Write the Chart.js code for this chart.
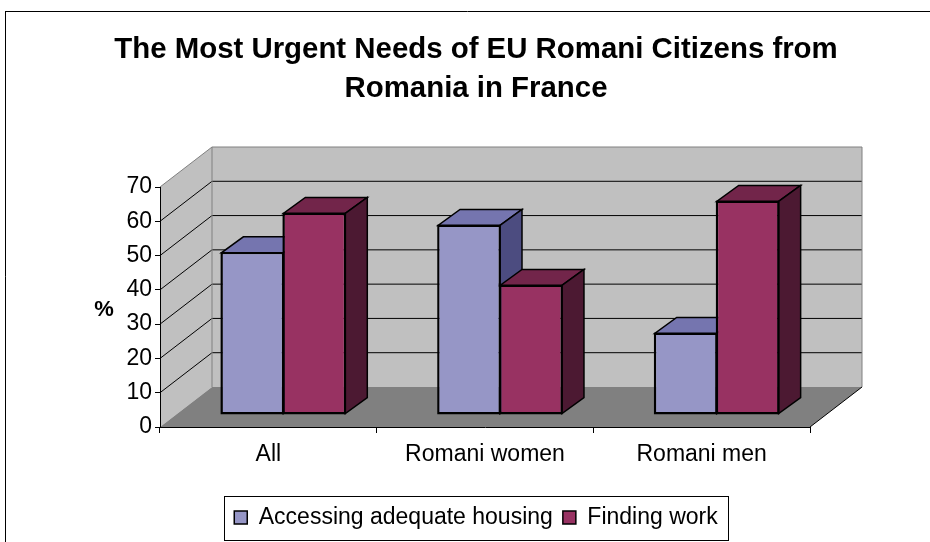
<!DOCTYPE html>
<html><head><meta charset="utf-8">
<script src="https://cdn.jsdelivr.net/npm/chart.js@4/dist/chart.umd.min.js"></script>
<style>html,body{margin:0;padding:0;background:#fff;}canvas{display:block;}</style>
</head><body>
<canvas id="c" width="930" height="542"></canvas>
<script>
const categories = ['All', 'Romani women', 'Romani men'];
const housing = [47, 55, 23.5];
const work = [58.5, 37.5, 62];
const seriesNames = ['Accessing adequate housing', 'Finding work'];
const titleLines = ['The Most Urgent Needs of EU Romani Citizens from', 'Romania in France'];
const yMin = 0, yMax = 70, yStep = 10;
const yLabel = '%';

const FONT = '"Liberation Sans", Arial, Helvetica, sans-serif';
const WALL_DX = 52, WALL_DY = -40;
const BAR_DX = 15, BAR_DY = -13;
const DEPTH_DX = 22, DEPTH_DY = -16;
const faces = [
  {front: '#9696C6', top: '#7575AF', side: '#4C4C80'},
  {front: '#983262', top: '#72254A', side: '#4C1932'}
];

function poly(ctx, pts, fill, stroke, lw) {
  ctx.beginPath();
  ctx.moveTo(pts[0][0], pts[0][1]);
  for (let i = 1; i < pts.length; i++) ctx.lineTo(pts[i][0], pts[i][1]);
  ctx.closePath();
  if (fill) { ctx.fillStyle = fill; ctx.fill(); }
  if (stroke) { ctx.strokeStyle = stroke; ctx.lineWidth = lw || 1; ctx.lineJoin = 'miter'; ctx.stroke(); }
}
function line(ctx, x1, y1, x2, y2, color, lw) {
  ctx.beginPath(); ctx.moveTo(x1, y1); ctx.lineTo(x2, y2);
  ctx.strokeStyle = color; ctx.lineWidth = lw || 1; ctx.stroke();
}

const excel3d = {
  id: 'excel3d',
  beforeDraw(chart) {
    const ctx = chart.ctx;
    const {left, right} = chart.chartArea;
    const ys = chart.scales.y;
    const yTop = ys.getPixelForValue(yMax), yBot = ys.getPixelForValue(yMin);
    ctx.save();
    line(ctx, 5.5, 542, 5.5, 11.5, '#000', 1);
    line(ctx, 5, 11.5, 930, 11.5, '#000', 1);
    poly(ctx, [[left + WALL_DX, yTop + WALL_DY], [right + WALL_DX, yTop + WALL_DY], [right + WALL_DX, yBot + WALL_DY], [left + WALL_DX, yBot + WALL_DY]], '#C0C0C0');
    poly(ctx, [[left, yTop], [left + WALL_DX, yTop + WALL_DY], [left + WALL_DX, yBot + WALL_DY], [left, yBot]], '#C0C0C0');
    poly(ctx, [[left, yBot], [right, yBot], [right + WALL_DX, yBot + WALL_DY], [left + WALL_DX, yBot + WALL_DY]], '#808080');
    ys.ticks.forEach(t => {
      if (t.value <= yMin || t.value >= yMax) return;
      const py = ys.getPixelForValue(t.value);
      line(ctx, left, py, left + WALL_DX, py + WALL_DY, '#000', 1);
      line(ctx, left + WALL_DX, py + WALL_DY, right + WALL_DX, py + WALL_DY, '#000', 1);
    });
    line(ctx, left, yTop, left + WALL_DX, yTop + WALL_DY, '#808080', 1);
    line(ctx, left + WALL_DX, yTop + WALL_DY, right + WALL_DX, yTop + WALL_DY, '#808080', 1);
    line(ctx, right + WALL_DX, yTop + WALL_DY, right + WALL_DX, yBot + WALL_DY, '#808080', 1);
    line(ctx, left + WALL_DX, yTop + WALL_DY, left + WALL_DX, yBot + WALL_DY, '#808080', 1);
    line(ctx, right, yBot, right + WALL_DX, yBot + WALL_DY, '#000', 1);
    ctx.restore();
  },
  beforeDatasetDraw() { return false; },
  afterDatasetsDraw(chart) {
    const ctx = chart.ctx;
    ctx.save();
    ctx.translate(BAR_DX, BAR_DY);
    const metas = chart.data.datasets.map((d, i) => chart.getDatasetMeta(i));
    for (let i = 0; i < categories.length; i++) {
      metas.forEach((meta, d) => {
        const el = meta.data[i];
        el.draw(ctx);
        const {x, y, base, width} = el.getProps(['x', 'y', 'base', 'width'], true);
        const l = x - width / 2, r = x + width / 2;
        poly(ctx, [[l, y], [r, y], [r + DEPTH_DX, y + DEPTH_DY], [l + DEPTH_DX, y + DEPTH_DY]], faces[d].top, '#000', 1.5);
        poly(ctx, [[r, y], [r + DEPTH_DX, y + DEPTH_DY], [r + DEPTH_DX, base + DEPTH_DY], [r, base]], faces[d].side, '#000', 1.5);
        ctx.strokeStyle = '#000'; ctx.lineWidth = 1.5;
        ctx.strokeRect(l, y, width, base - y);
      });
    }
    ctx.restore();
  },
  afterDraw(chart) {
    const ctx = chart.ctx;
    ctx.save();
    const ys = chart.scales.y;
    ctx.fillStyle = '#000';
    ctx.font = 'bold 22px ' + FONT;
    ctx.textAlign = 'center';
    ctx.textBaseline = 'middle';
    ctx.fillText(yLabel, 104, (ys.top + ys.bottom) / 2 + 3);
    const hb = chart.legend.legendHitBoxes;
    if (hb && hb.length) {
      const l = Math.min(...hb.map(h => h.left)) - 10;
      const r = Math.max(...hb.map(h => h.left + h.width)) + 11;
      const t = Math.min(...hb.map(h => h.top)) - 10.5;
      const b = Math.max(...hb.map(h => h.top + h.height)) + 10;
      ctx.strokeStyle = '#000'; ctx.lineWidth = 1;
      ctx.strokeRect(Math.round(l) + 0.5, Math.round(t) + 0.5, Math.round(r - l), Math.round(b - t));
    }
    ctx.restore();
  }
};

new Chart(document.getElementById('c'), {
  type: 'bar',
  data: {
    labels: categories,
    datasets: [
      {label: seriesNames[0], data: housing, backgroundColor: faces[0].front, borderColor: '#000', borderWidth: 1.5, borderSkipped: false, clip: false},
      {label: seriesNames[1], data: work, backgroundColor: faces[1].front, borderColor: '#000', borderWidth: 1.5, borderSkipped: false, clip: false}
    ]
  },
  options: {
    responsive: false,
    devicePixelRatio: 1,
    animation: false,
    events: [],
    layout: {padding: {top: 0, left: 30, right: 8, bottom: 3}},
    datasets: {bar: {categoryPercentage: 0.572, barPercentage: 1}},
    scales: {
      x: {
        offset: true,
        ticks: {color: '#000', font: {family: FONT, size: 23}, padding: 8, maxRotation: 0, autoSkip: false},
        grid: {offset: true, drawOnChartArea: false, drawTicks: true, tickLength: 6, color: '#000'},
        border: {display: true, color: '#000', width: 1},
        afterFit(s) { s.height = 69; }
      },
      y: {
        min: yMin, max: yMax,
        ticks: {stepSize: yStep, color: '#000', font: {family: FONT, size: 23}, padding: 3},
        grid: {drawOnChartArea: false, drawTicks: true, tickLength: 5, color: '#000'},
        border: {display: true, color: '#000', width: 1},
        afterFit(s) { s.width = 130; }
      },
      side: {
        type: 'linear', position: 'right', display: true,
        ticks: {display: false}, grid: {display: false}, border: {display: false},
        afterFit(s) { s.width = 112; }
      }
    },
    plugins: {
      title: {
        display: true, text: titleLines, color: '#000',
        font: {family: FONT, size: 29.4, weight: 'bold', lineHeight: '39px'},
        padding: {top: 30, bottom: 79}
      },
      legend: {
        display: true, position: 'bottom',
        labels: {color: '#000', font: {family: FONT, size: 23}, boxWidth: 13, boxHeight: 13, padding: 10}
      },
      tooltip: {enabled: false}
    }
  },
  plugins: [excel3d]
});
</script>
</body></html>
